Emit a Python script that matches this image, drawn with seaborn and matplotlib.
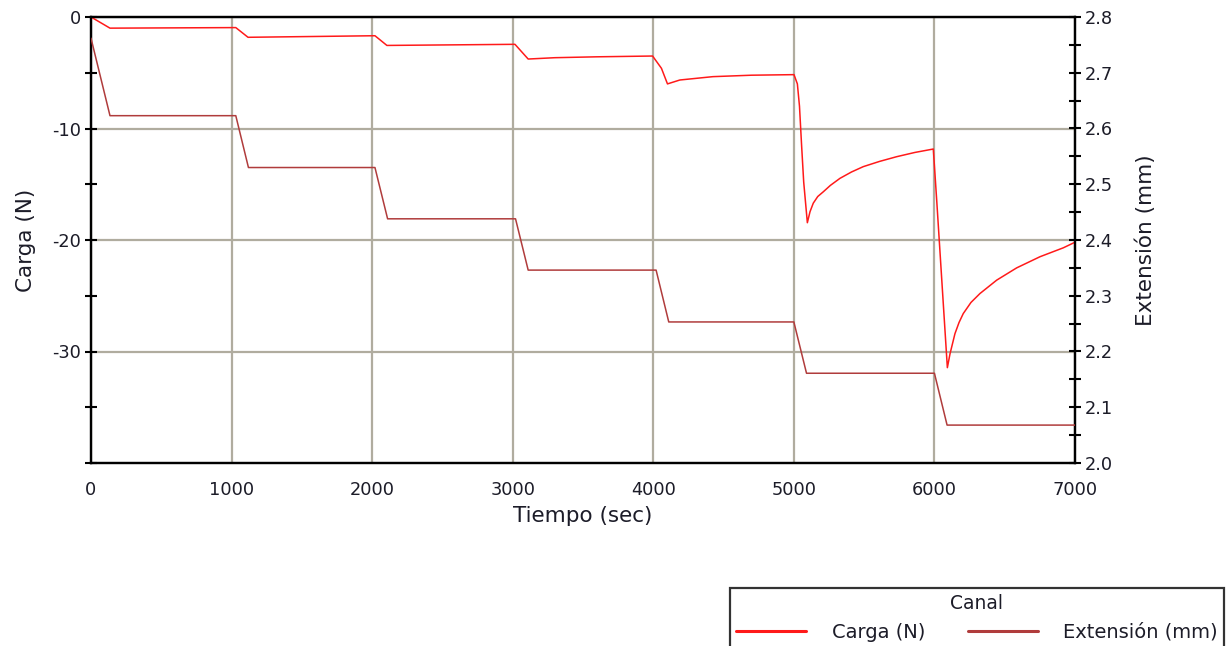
import numpy as np
import pandas as pd
import matplotlib.pyplot as plt
import matplotlib.ticker as mticker
import seaborn as sns

# Carga (N) vs tiempo
carga_t = [0, 135, 1030, 1117, 2020, 2105, 3016, 3110, 3300, 3600, 3995,
           4058, 4101, 4189, 4424, 4700, 5001, 5025, 5040, 5055, 5070, 5096,
           5115, 5138, 5170, 5210, 5260, 5328, 5410, 5494, 5610, 5731, 5860, 5992,
           6016, 6092, 6111, 6146, 6175, 6205, 6260, 6324, 6443, 6585, 6751,
           6917, 7000]
carga_v = [0.0, -1.0, -0.95, -1.82, -1.68, -2.55, -2.45, -3.77, -3.65, -3.57, -3.5,
           -4.6, -6.0, -5.65, -5.35, -5.22, -5.17, -6.0, -8.0, -11.5, -14.8, -18.45,
           -17.46, -16.7, -16.1, -15.67, -15.1, -14.47, -13.9, -13.42, -12.95, -12.53, -12.15, -11.84,
           -16.4, -31.45, -30.2, -28.4, -27.4, -26.6, -25.6, -24.8, -23.6, -22.5, -21.5,
           -20.7, -20.2]

# Extensión (mm) vs tiempo
ext_t = [0, 135, 1030, 1120, 2020, 2110, 3020, 3110, 4020, 4110, 5000, 5090,
         6000, 6090, 7000]
ext_v = [2.762, 2.623, 2.623, 2.530, 2.530, 2.438, 2.438, 2.346, 2.346, 2.253,
         2.253, 2.161, 2.161, 2.068, 2.068]

sns.set_style("white")
plt.rcParams['font.family'] = ['DejaVu Sans']
plt.rcParams['axes.unicode_minus'] = False
plt.rcParams['text.color'] = '#1c1c28'

red = '#FF1A1A'
brown = '#B03C3C'
grid_c = '#B0AC9F'
txt = '#1c1c28'

fig = plt.figure(figsize=(12.32, 6.46), dpi=100)
ax = fig.add_axes([91 / 1232, 1 - 463 / 646, 984 / 1232, 446 / 646])
ax2 = ax.twinx()

carga = pd.DataFrame({"t": carga_t, "v": carga_v})
ext = pd.DataFrame({"t": ext_t, "v": ext_v})

sns.lineplot(data=carga, x="t", y="v", ax=ax, color=red, lw=1.1, zorder=5)
sns.lineplot(data=ext, x="t", y="v", ax=ax2, color=brown, lw=1.1, zorder=5)

ax.set_xlim(0, 7000)
ax.set_ylim(-40, 0)
ax2.set_ylim(2.0, 2.8)

ax.set_xticks(range(0, 7001, 1000))
ax.xaxis.set_minor_locator(mticker.MultipleLocator(500))
ax.set_yticks([0, -10, -20, -30])
ax.yaxis.set_minor_locator(mticker.FixedLocator([-5, -15, -25, -35, -40]))
ax2.yaxis.set_major_locator(mticker.MultipleLocator(0.1))
ax2.yaxis.set_minor_locator(mticker.MultipleLocator(0.05))
ax2.yaxis.set_major_formatter(mticker.FormatStrFormatter('%.1f'))

for a in (ax, ax2):
    a.tick_params(which='both', direction='inout', width=1.5, color='black',
                  labelcolor=txt, labelsize=12.8, pad=3, length=8)
    for s in a.spines.values():
        s.set_color('black')
        s.set_linewidth(1.6)
        s.set_visible(True)
ax.tick_params(axis='x', which='both', pad=9)

ax.grid(True, which='major', color=grid_c, lw=1.6)
ax2.grid(False)
ax.set_axisbelow(True)

ax.set_xlabel("Tiempo (sec)", fontsize=15.5, labelpad=5, color=txt)
ax.set_ylabel("Carga (N)", fontsize=15.5, labelpad=12, color=txt)
ax2.set_ylabel("Extensión (mm)", fontsize=15.5, labelpad=16, color=txt)

ax2.set_zorder(ax.get_zorder() + 1)
ax2.patch.set_visible(False)

h1 = plt.Line2D([], [], color=red, lw=2.2)
h2 = plt.Line2D([], [], color=brown, lw=2.2)
leg = fig.legend([h1, h2], ["Carga (N)", "Extensión (mm)"], title="Canal",
                 ncol=2, loc='upper left', bbox_to_anchor=(730 / 1232, 1 - 588 / 646),
                 fontsize=14, title_fontsize=13.5, frameon=True, fancybox=False,
                 handlelength=3.6, handletextpad=1.3, columnspacing=2.2,
                 borderaxespad=0, borderpad=0.32)
leg.get_frame().set_edgecolor('black')
leg.get_frame().set_linewidth(1.6)

fig.savefig("out.png", dpi=100)
